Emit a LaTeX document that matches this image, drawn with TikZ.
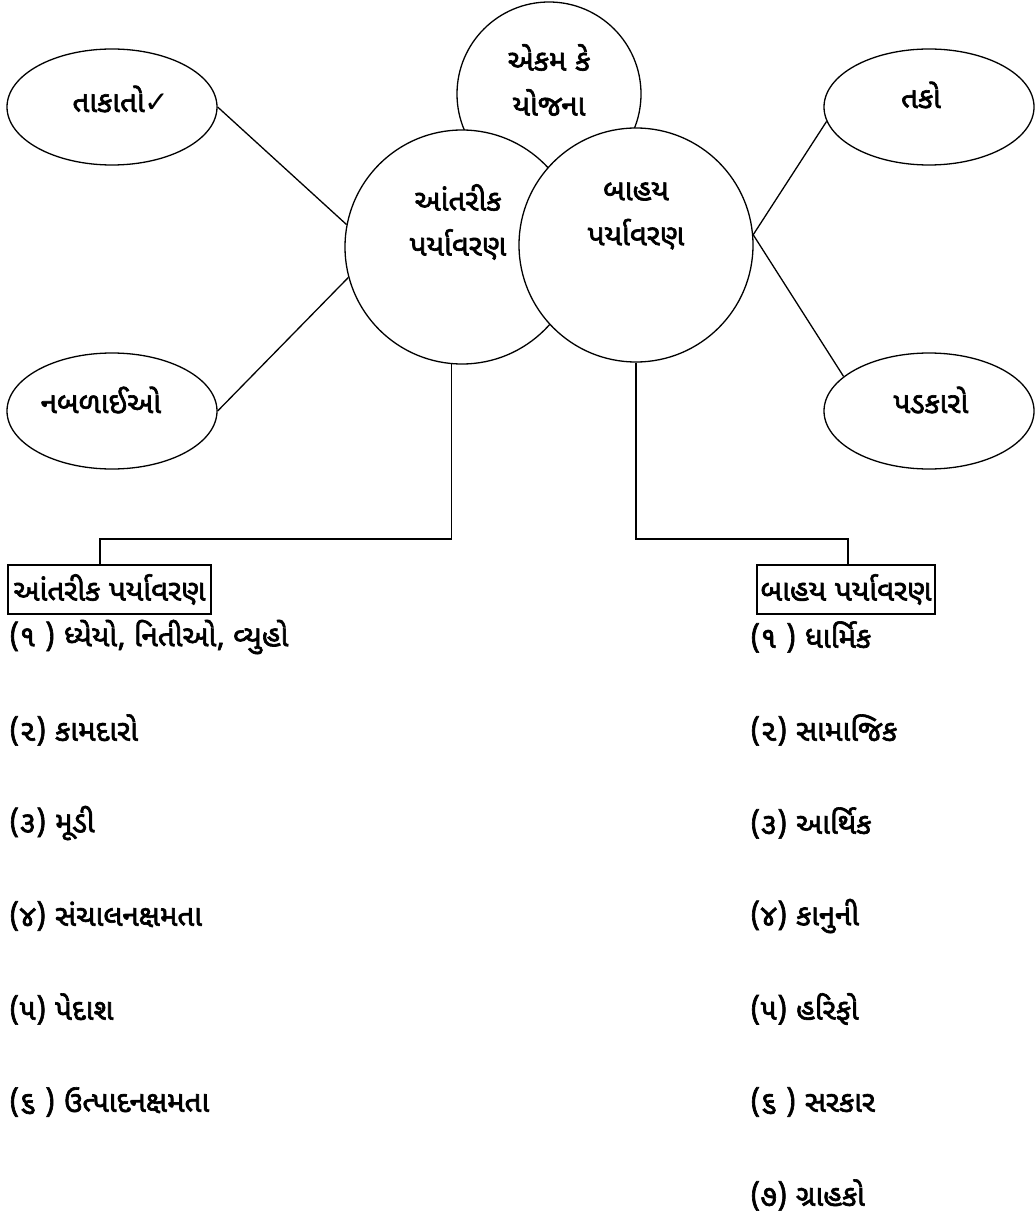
\documentclass[tikz,border=0pt]{standalone}
\usepackage{fontspec}
\newfontfamily\gujfont[Script=Gujarati,FakeBold=2.2]{Noto Sans Gujarati UI}
\newfontfamily\symfont{DejaVu Sans}
\usetikzlibrary{shapes.geometric}
\begin{document}
\begin{tikzpicture}[
          x = 1pt, y = -1pt,
every node/.style = {font=\gujfont\fontsize{29.5}{45}\selectfont},
envcircle/.style = {circle, draw, fill=white, line width=1.3pt,
                    minimum size=234pt, inner sep=0pt},
 swotoval/.style = {ellipse, draw, line width=1.3pt, minimum width=210pt,
                    minimum height=116pt, inner sep=0pt},
  headbox/.style = {draw, line width=2pt, inner sep=1pt, anchor=north west,
                    minimum height=49pt},
 listitem/.style = {anchor=west, inner sep=0pt},
     link/.style = {line width=1.3pt}
                        ]
\useasboundingbox (0,0) rectangle (1034,1222);
% circles
\node[envcircle, minimum size=184pt,
      label={[align=center, shift={(0,-14)}]center:એકમ કે\\યોજના}] (unit) at (549,94) {};
\node[envcircle,
      label={[align=center, shift={(-4,-25)}]center:આંતરીક\\પર્યાવરણ}] (inner) at (462,247) {};
\node[envcircle,
      label={[align=center, shift={(0,-29)}]center:બાહય\\પર્યાવરણ}] (outer) at (636,245) {};
% swot ellipses
\node[swotoval, label={[shift={(9,-8)}]center:તાકાતો{\symfont ✓}}] (strength) at (112,107) {};
\node[swotoval, label={[shift={(-11,-11)}]center:નબળાઈઓ}] (weak) at (112,411) {};
\node[swotoval, label={[shift={(-8,-12)}]center:તકો}] (opp) at (929,107) {};
\node[swotoval, label={[shift={(2,-11)}]center:પડકારો}] (threat) at (929,411) {};
\draw[link] (strength.east) -- (inner.169);
\draw[link] (weak.east) -- (inner.195);
\draw[link] (outer.5) -- (opp.188);
\draw[link] (outer.5) -- (threat.158);
% headings
\node[headbox, minimum width=203pt] (innerbox) at (7,564) {આંતરીક પર્યાવરણ};
\node[headbox, minimum width=178pt] (outerbox) at (756,564) {બાહય પર્યાવરણ};
\coordinate (injoin) at (100,539);
\coordinate (outjoin) at (848,539);
\draw[link] (inner.265) |- (injoin) -- (injoin |- innerbox.north);
\draw[link] (outer.south) |- (outjoin) -- (outjoin |- outerbox.north);
% lists
\foreach \txt [count=\i] in {{(૧ ) ધ્યેયો, નિતીઓ, વ્યુહો}, {(૨) કામદારો}, {(૩) મૂડી},
        {(૪) સંચાલનક્ષમતા}, {(૫) પેદાશ}, {(૬ ) ઉત્પાદનક્ષમતા}}
    \node[listitem] (initem\i) at (9,544+93*\i) {\txt};
\foreach \txt [count=\i] in {{(૧ ) ધાર્મિક}, {(૨) સામાજિક}, {(૩) આર્થિક}, {(૪) કાનુની},
        {(૫) હરિફો}, {(૬ ) સરકાર}, {(૭) ગ્રાહકો}}
    \node[listitem] (outitem\i) at (750,544+93*\i) {\txt};
\end{tikzpicture}
\end{document}
